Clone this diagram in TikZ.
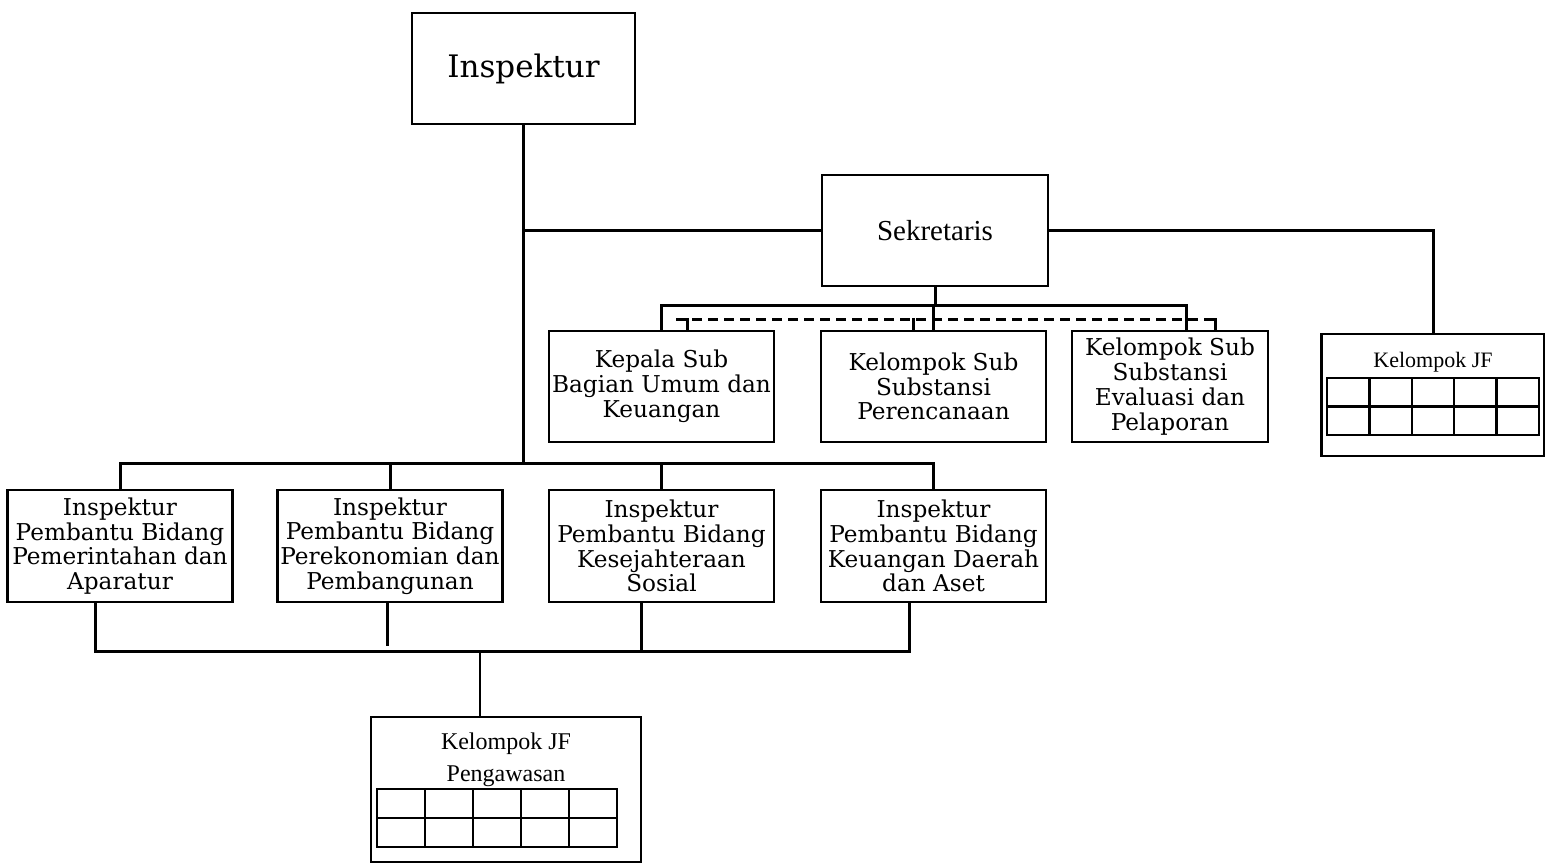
\documentclass[tikz,border=0pt]{standalone}
\usepackage{fontspec}
\setmainfont{DejaVu Serif}
\newfontfamily\timesfont{Liberation Serif}

\begin{document}
\begin{tikzpicture}[x=0.5pt,y=-0.5pt,
  unit/.style={draw, line width=1.4pt, align=center, inner sep=0pt,
    minimum width=112.5pt, minimum height=55.5pt,
    font=\fontsize{11.6}{12.4}\selectfont},
  link/.style={line width=1.5pt},
  jfcell/.style={line width=1.2pt}]

\useasboundingbox (0,0) rectangle (1545,863);

\node[unit, minimum width=111.5pt, font=\fontsize{15.5}{18}\selectfont] (insp) at (523.5,68.5) {Inspektur};
\node[unit, minimum width=113pt, font=\timesfont\fontsize{14.5}{17}\selectfont] (sek) at (935,230.5) {Sekretaris};

\node[unit] (kasub) at (661.5,386.5) {Kepala Sub\\Bagian Umum dan\\Keuangan};
\node[unit] (renc) at (933.5,386.5) {Kelompok Sub\\Substansi\\Perencanaan};
\node[unit, minimum width=98pt] (evlap) at (1170,386.5) {Kelompok Sub\\Substansi\\Evaluasi dan\\Pelaporan};

\node[unit, minimum width=111.5pt, minimum height=61pt] (jfr) at (1433,395) {};
\node[font=\timesfont\fontsize{11}{13}\selectfont] (jfrt) at (1433,362) {Kelompok JF};

\node[unit, minimum height=56pt] (ipa) at (120,546) {Inspektur\\Pembantu Bidang\\Pemerintahan dan\\Aparatur};
\node[unit, minimum height=56pt] (ipb) at (390,546) {Inspektur\\Pembantu Bidang\\Perekonomian dan\\Pembangunan};
\node[unit, minimum height=56pt] (ipc) at (661.5,546) {Inspektur\\Pembantu Bidang\\Kesejahteraan\\Sosial};
\node[unit, minimum height=56pt] (ipd) at (933.5,546) {Inspektur\\Pembantu Bidang\\Keuangan Daerah\\dan Aset};

\node[unit, minimum width=135pt, minimum height=72.5pt] (jfb) at (506,789.5) {};
\node[font=\timesfont\fontsize{12}{16}\selectfont, align=center] (jfbt) at (506,760) {Kelompok JF\\Pengawasan};

\coordinate (hub) at (523.5,463);
\draw[link] (insp.south) -- (hub);
\draw[link] (sek.west) -- (sek.west -| hub);
\draw[link] (sek.east) -| (jfr.north);

\draw[link] (sek.south) -- ++(0,20);
\draw[link] (kasub.north) -- ++(0,-24) -| ([xshift=8pt]evlap.north);
\draw[link] (renc.north) -- ++(0,-24);

\coordinate (dashL) at (676,319);
\coordinate (dashR) at (1217,319);
\draw[link, dash pattern=on 5pt off 3pt] (dashL) -- (dashR);
\draw[link] ([xshift=13pt]kasub.north) -- ++(0,-12);
\draw[link] ([xshift=-10pt]renc.north) -- ++(0,-12);
\draw[link] ([xshift=22.5pt]evlap.north) -- ++(0,-12);

\draw[link] (ipa.north) -- (ipa.north |- hub) -- (ipd.north |- hub) -- (ipd.north);
\draw[link] (ipb.north) -- (ipb.north |- hub);
\draw[link] (ipc.north) -- (ipc.north |- hub);

\coordinate (busL) at (95,651);
\coordinate (busR) at (911,651);
\draw[link] (ipa.south -| busL) -- (busL) -- (busR);
\draw[link] ([xshift=-1.5pt]ipb.south) -- ++(0,43);
\draw[link] ([xshift=-10pt]ipc.south) -- ++(0,49);
\draw[link] ([xshift=-12.25pt]ipd.south) -- ++(0,49);
\draw[line width=0.6pt] ([xshift=-13pt]jfb.north) -- ++(0,-66);

\draw[jfcell] (1327,378) rectangle (1539,435);
\draw[jfcell] (1327,406.5) -- (1539,406.5);
\foreach \i in {1,...,4}
{
    \draw[jfcell] ({1327+\i*42.4},378) -- ({1327+\i*42.4},435);
}

\draw[jfcell] (377,789) rectangle (617,847);
\draw[jfcell] (377,818) -- (617,818);
\foreach \i in {1,...,4}
{
    \draw[jfcell] ({377+\i*48},789) -- ({377+\i*48},847);
}

\end{tikzpicture}
\end{document}
